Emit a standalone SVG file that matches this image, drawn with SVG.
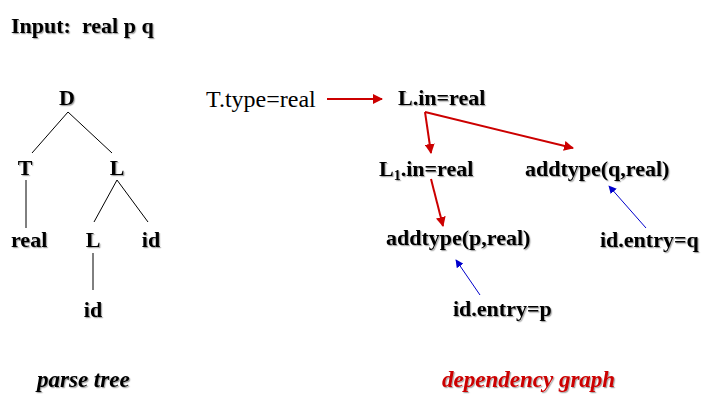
<svg xmlns="http://www.w3.org/2000/svg" width="715" height="413" viewBox="0 0 715 413">
<defs>
<style>
text{font-family:'Liberation Serif','Times New Roman',Times,serif;font-size:24px;fill:#000}
.sh{filter:url(#shadow);font-weight:bold;font-size:22px}
.it{font-style:italic;font-size:23px}
.red{fill:#cc0000}
.tree{stroke:#000;stroke-width:1;fill:none}
.ra{stroke:#cc0000;stroke-width:2;fill:none;marker-end:url(#redHead)}
.ba{stroke:#0000cc;stroke-width:1;fill:none;marker-end:url(#blueHead)}
</style>
<filter id="shadow" x="-10%" y="-20%" width="130%" height="150%">
<feDropShadow dx="1.2" dy="1.2" stdDeviation="0.6" flood-color="#000" flood-opacity="0.35"/>
</filter>
<marker id="redHead" viewBox="0 0 10 10" refX="9" refY="5" markerWidth="5" markerHeight="5" orient="auto" markerUnits="strokeWidth">
<path d="M0,0 L10,5 L0,10 z" fill="#cc0000"/>
</marker>
<marker id="blueHead" viewBox="0 0 10 10" refX="9" refY="5" markerWidth="8" markerHeight="8" orient="auto" markerUnits="strokeWidth">
<path d="M0,0 L10,5 L0,10 z" fill="#0000cc"/>
</marker>
</defs>
<rect width="715" height="413" fill="#fff"/>

<g id="title"><text class="sh" x="11" y="33" xml:space="preserve">Input:  real p q</text></g>

<g id="connectors">
<line class="tree" x1="68" y1="112" x2="32" y2="153"/>
<line class="tree" x1="68" y1="112" x2="112" y2="153"/>
<line class="tree" x1="26" y1="180" x2="26" y2="228"/>
<line class="tree" x1="117" y1="180" x2="94" y2="222"/>
<line class="tree" x1="117" y1="180" x2="148" y2="222"/>
<line class="tree" x1="93" y1="253" x2="93" y2="290"/>
<line class="ra" x1="327" y1="99" x2="382" y2="99"/>
<line class="ra" x1="425" y1="112" x2="431" y2="153"/>
<line class="ra" x1="425" y1="112" x2="573" y2="148"/>
<line class="ra" x1="431" y1="179" x2="443" y2="226"/>
<line class="ba" x1="646" y1="228" x2="609" y2="186"/>
<line class="ba" x1="480" y1="295" x2="456" y2="260"/>
</g>

<g id="node-D"><text class="sh" x="67" y="105" text-anchor="middle">D</text></g>
<g id="node-T"><text class="sh" x="25" y="175" text-anchor="middle">T</text></g>
<g id="node-L"><text class="sh" x="117" y="175" text-anchor="middle">L</text></g>
<g id="node-real"><text class="sh" x="11" y="247">real</text></g>
<g id="node-L2"><text class="sh" x="93" y="247" text-anchor="middle">L</text></g>
<g id="node-id1"><text class="sh" x="151" y="247" text-anchor="middle">id</text></g>
<g id="node-id2"><text class="sh" x="93" y="317" text-anchor="middle">id</text></g>

<g id="node-Ttype"><text x="206" y="107">T.type=real</text></g>
<g id="node-Lin"><text class="sh" x="398" y="105">L.in=real</text></g>
<g id="node-L1in"><text class="sh" x="379" y="176">L<tspan font-size="14" dy="4">1</tspan><tspan dy="-4">.in=real</tspan></text></g>
<g id="node-addq"><text class="sh" x="525" y="176">addtype(q,real)</text></g>
<g id="node-addp"><text class="sh" x="386" y="245">addtype(p,real)</text></g>
<g id="node-idq"><text class="sh" x="600" y="247">id.entry=q</text></g>
<g id="node-idp"><text class="sh" x="453" y="316">id.entry=p</text></g>

<g id="captions">
<text class="sh it" x="37" y="387">parse tree</text>
<text class="sh it red" x="442" y="387" font-size="24">dependency graph</text>
</g>
</svg>
